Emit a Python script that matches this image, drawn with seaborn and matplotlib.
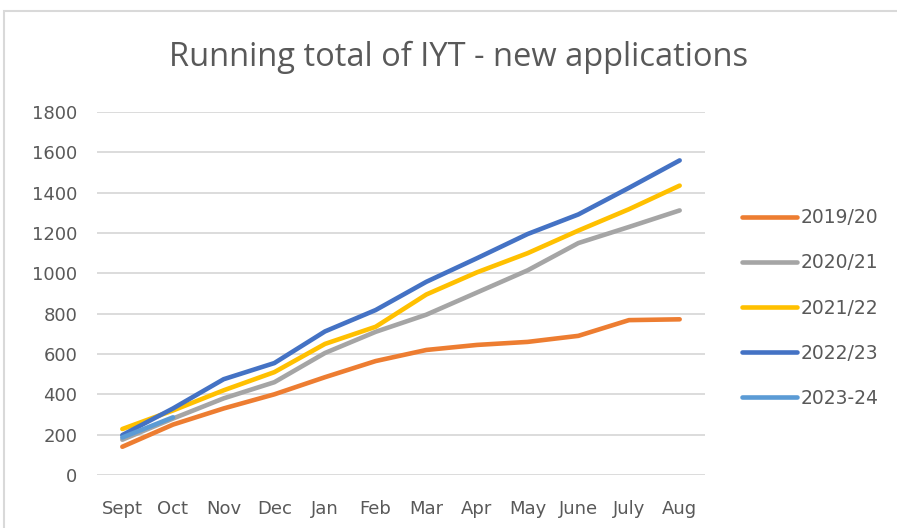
import pandas as pd
import seaborn as sns
import matplotlib.pyplot as plt
from matplotlib.patches import Rectangle

sns.set_theme(style="white")
plt.rcParams['font.family'] = ['DejaVu Sans']

# datos
meses = ["Sept", "Oct", "Nov", "Dec", "Jan", "Feb", "Mar", "Apr", "May", "June", "July", "Aug"]
temporadas = ["2019/20", "2020/21", "2021/22", "2022/23", "2023-24"]

t_2019_20 = [140, 250, 330, 400, 485, 565, 620, 645, 660, 690, 768, 772]
t_2020_21 = [175, 280, 380, 460, 605, 710, 795, 905, 1015, 1150, 1230, 1312]
t_2021_22 = [228, 320, 420, 510, 650, 735, 895, 1005, 1100, 1212, 1318, 1435]
t_2022_23 = [198, 330, 475, 555, 712, 818, 958, 1075, 1195, 1292, 1424, 1560]
t_2023_24 = [186, 286]

colores = {
    "2019/20": "#ED7D31",
    "2020/21": "#A5A5A5",
    "2021/22": "#FFC000",
    "2022/23": "#4472C4",
    "2023-24": "#5B9BD5",
}

series = [t_2019_20, t_2020_21, t_2021_22, t_2022_23, t_2023_24]
filas = []
for temporada, valores in zip(temporadas, series):
    for i, v in enumerate(valores):
        filas.append({"Mes": i, "Temporada": temporada, "Total": v})
df = pd.DataFrame(filas)

gris_texto = "#595959"

fig = plt.figure(figsize=(8.97, 5.28), dpi=100)
ax = fig.add_axes([97 / 897, 1 - 475 / 528, 608 / 897, 363 / 528])

sns.lineplot(
    data=df,
    x="Mes",
    y="Total",
    hue="Temporada",
    hue_order=temporadas,
    palette=colores,
    linewidth=3.3,
    solid_capstyle="round",
    ax=ax,
)

ax.set_xlim(-0.5, len(meses) - 0.5)
ax.set_ylim(0, 1800)
ax.set_yticks(range(0, 1801, 200))
ax.set_xticks(range(len(meses)))
ax.set_xticklabels(meses)
ax.yaxis.grid(True, color="#D9D9D9", linewidth=1.3)
ax.set_axisbelow(True)
for s in ax.spines.values():
    s.set_visible(False)
ax.set_xlabel("")
ax.set_ylabel("")
ax.tick_params(axis="both", colors=gris_texto, labelsize=13, length=0)
ax.tick_params(axis="y", pad=14)
ax.tick_params(axis="x", pad=18)

handles, labels = ax.get_legend_handles_labels()
ax.legend(
    handles, labels,
    loc="center left",
    bbox_to_anchor=(733 / 897, 1 - 308 / 528),
    bbox_transform=fig.transFigure,
    frameon=False,
    fontsize=13.5,
    labelcolor=gris_texto,
    handlelength=2.9,
    handletextpad=0.2,
    labelspacing=1.39,
    borderpad=0,
)

fig.text(459 / 897, 1 - 57 / 528, "Running total of IYT - new applications",
         ha="center", va="center", fontsize=23.5, color=gris_texto,
         family="Open Sans")

# marco del area del grafico
fig.patches.append(Rectangle((4 / 897, -0.1), 1.2, 1.1 - 11 / 528,
                             transform=fig.transFigure, fill=False,
                             edgecolor="#D9D9D9", linewidth=1.5))

fig.savefig("out.png", dpi=100, facecolor="white")
